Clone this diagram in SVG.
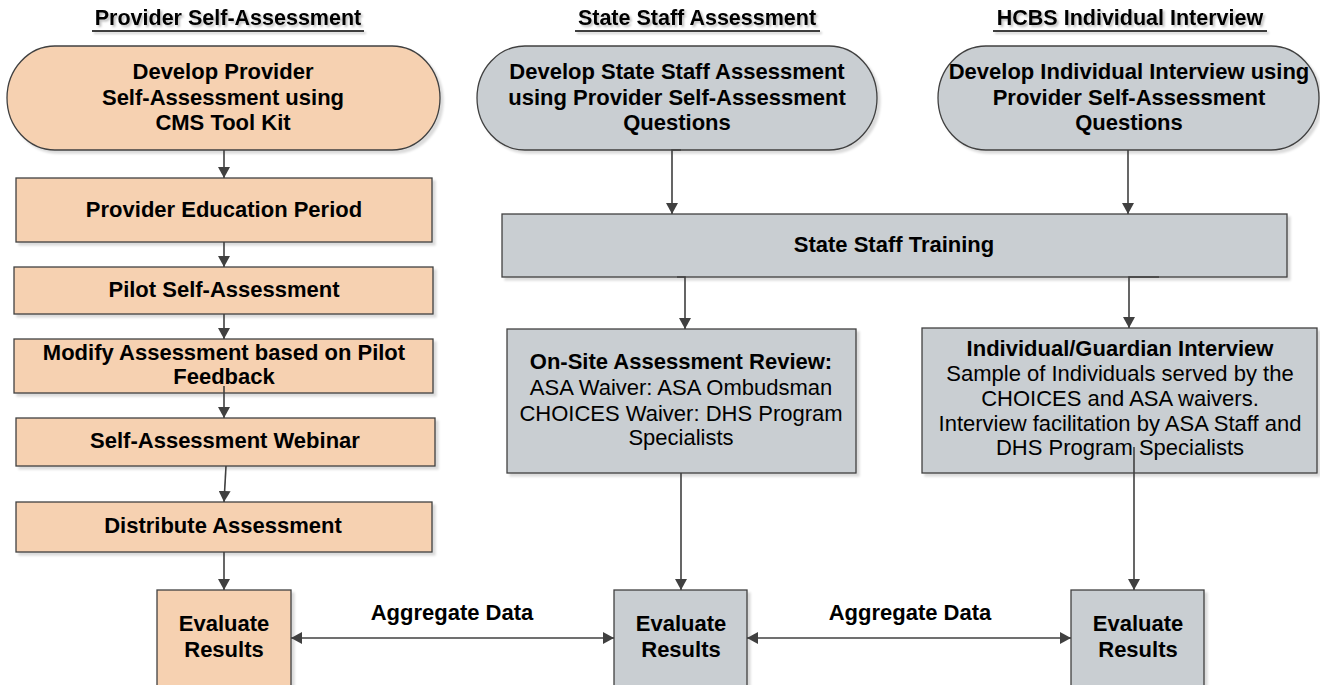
<svg xmlns="http://www.w3.org/2000/svg" width="1320" height="685" viewBox="0 0 1320 685">
<defs>
  <filter id="sh" x="-5%" y="-5%" width="115%" height="120%">
    <feDropShadow dx="3" dy="3" stdDeviation="1" flood-color="#000" flood-opacity="0.14"/>
  </filter>
  <filter id="tsh" x="-5%" y="-20%" width="110%" height="150%">
    <feDropShadow dx="2" dy="2" stdDeviation="1" flood-color="#000" flood-opacity="0.25"/>
  </filter>
  <marker id="ah" viewBox="0 0 11 12" refX="11" refY="6" markerWidth="11" markerHeight="12" markerUnits="userSpaceOnUse" orient="auto-start-reverse">
    <path d="M0,0 L11,6 L0,12 Z" fill="#404040"/>
  </marker>
</defs>
<style>
  .peach { fill: #F6D1B1; stroke: #404040; stroke-width: 1.3; }
  .gray { fill: #C9CED2; stroke: #404040; stroke-width: 1.3; }
  text { font-family: "Liberation Sans", Arial, sans-serif; font-size: 22px; fill: #000; text-anchor: middle; }
  .b { font-weight: bold; }
  .title { font-weight: bold; font-size: 21.5px; }
  .ul { stroke: #000; stroke-width: 1.6; }
  .conn path, .conn line { stroke: #404040; stroke-width: 1.6; fill: none; }
  .arr { marker-end: url(#ah); }
  .dbl { marker-start: url(#ah); marker-end: url(#ah); }
</style>

<!-- Column titles -->
<g id="title-provider" filter="url(#tsh)">
  <text class="title" x="228" y="25">Provider Self-Assessment</text>
  <line class="ul" x1="92" y1="31" x2="364" y2="31"/>
</g>
<g id="title-state" filter="url(#tsh)">
  <text class="title" x="697" y="25">State Staff Assessment</text>
  <line class="ul" x1="575" y1="31" x2="820" y2="31"/>
</g>
<g id="title-hcbs" filter="url(#tsh)">
  <text class="title" x="1130" y="25">HCBS Individual Interview</text>
  <line class="ul" x1="993" y1="31" x2="1267" y2="31"/>
</g>

<!-- Provider column -->
<g id="n-develop-provider">
  <rect class="peach" filter="url(#sh)" x="7" y="46" width="433" height="104" rx="48" ry="52"/>
  <text class="b" x="223" y="79">Develop Provider</text>
  <text class="b" x="223" y="105">Self-Assessment using</text>
  <text class="b" x="223" y="130">CMS Tool Kit</text>
</g>
<g id="n-education">
  <rect class="peach" filter="url(#sh)" x="16" y="178" width="416" height="64"/>
  <text class="b" x="224" y="217">Provider Education Period</text>
</g>
<g id="n-pilot">
  <rect class="peach" filter="url(#sh)" x="14" y="267" width="419" height="47"/>
  <text class="b" x="224" y="297">Pilot Self-Assessment</text>
</g>
<g id="n-modify">
  <rect class="peach" filter="url(#sh)" x="14" y="339" width="419" height="54"/>
  <text class="b" x="224" y="360">Modify Assessment based on Pilot</text>
  <text class="b" x="224" y="384">Feedback</text>
</g>
<g id="n-webinar">
  <rect class="peach" filter="url(#sh)" x="16" y="418" width="419" height="48"/>
  <text class="b" x="225" y="448">Self-Assessment Webinar</text>
</g>
<g id="n-distribute">
  <rect class="peach" filter="url(#sh)" x="16" y="502" width="416" height="50"/>
  <text class="b" x="223" y="533">Distribute Assessment</text>
</g>
<g id="n-eval-provider">
  <rect class="peach" filter="url(#sh)" x="157" y="590" width="134" height="110"/>
  <text class="b" x="224" y="631">Evaluate</text>
  <text class="b" x="224" y="657">Results</text>
</g>

<!-- State staff column -->
<g id="n-develop-state">
  <rect class="gray" filter="url(#sh)" x="477" y="46" width="400" height="104" rx="48" ry="52"/>
  <text class="b" x="677" y="79">Develop State Staff Assessment</text>
  <text class="b" x="677" y="105">using Provider Self-Assessment</text>
  <text class="b" x="677" y="130">Questions</text>
</g>
<g id="n-develop-interview">
  <rect class="gray" filter="url(#sh)" x="938" y="46" width="381" height="104" rx="48" ry="52"/>
  <text class="b" x="1129" y="79">Develop Individual Interview using</text>
  <text class="b" x="1129" y="105">Provider Self-Assessment</text>
  <text class="b" x="1129" y="130">Questions</text>
</g>
<g id="n-training">
  <rect class="gray" filter="url(#sh)" x="502" y="214" width="785" height="63"/>
  <text class="b" x="894" y="252">State Staff Training</text>
</g>
<g id="n-onsite">
  <rect class="gray" filter="url(#sh)" x="507" y="329" width="349" height="144"/>
  <text class="b" x="681" y="369">On-Site Assessment Review:</text>
  <text x="681" y="395">ASA Waiver: ASA Ombudsman</text>
  <text x="681" y="421">CHOICES Waiver: DHS Program</text>
  <text x="681" y="445">Specialists</text>
</g>
<g id="n-guardian">
  <rect class="gray" filter="url(#sh)" x="922" y="328" width="395" height="145"/>
  <text class="b" x="1120" y="356">Individual/Guardian Interview</text>
  <text x="1120" y="381">Sample of Individuals served by the</text>
  <text x="1120" y="406">CHOICES and ASA waivers.</text>
  <text x="1120" y="431">Interview facilitation by ASA Staff and</text>
  <text x="1120" y="455">DHS Program Specialists</text>
</g>
<g id="n-eval-state">
  <rect class="gray" filter="url(#sh)" x="614" y="590" width="133" height="110"/>
  <text class="b" x="681" y="631">Evaluate</text>
  <text class="b" x="681" y="657">Results</text>
</g>
<g id="n-eval-hcbs">
  <rect class="gray" filter="url(#sh)" x="1071" y="590" width="133" height="110"/>
  <text class="b" x="1138" y="631">Evaluate</text>
  <text class="b" x="1138" y="657">Results</text>
</g>

<!-- Connectors -->
<g id="connectors" class="conn">
  <path class="arr" d="M224,150 L224,178"/>
  <path class="arr" d="M224,242 L224,267"/>
  <path class="arr" d="M224,314 L224,339"/>
  <path class="arr" d="M224,386 L224,418"/>
  <path class="arr" d="M226,466 L224,502"/>
  <path class="arr" d="M224,552 L224,590"/>
  <path class="arr" d="M681,150 L672,150 L672,214"/>
  <path class="arr" d="M1128,150 L1128,214"/>
  <path class="arr" d="M677,277 L685,277 L685,329"/>
  <path class="arr" d="M1159,277 L1129,277 L1129,328"/>
  <path class="arr" d="M681,473 L681,590"/>
  <path class="arr" d="M1134,447 L1134,590"/>
  <path class="dbl" d="M291,638 L614,638"/>
  <path class="dbl" d="M747,638 L1071,638"/>
  <text class="b" x="452" y="620">Aggregate Data</text>
  <text class="b" x="910" y="620">Aggregate Data</text>
</g>
</svg>
